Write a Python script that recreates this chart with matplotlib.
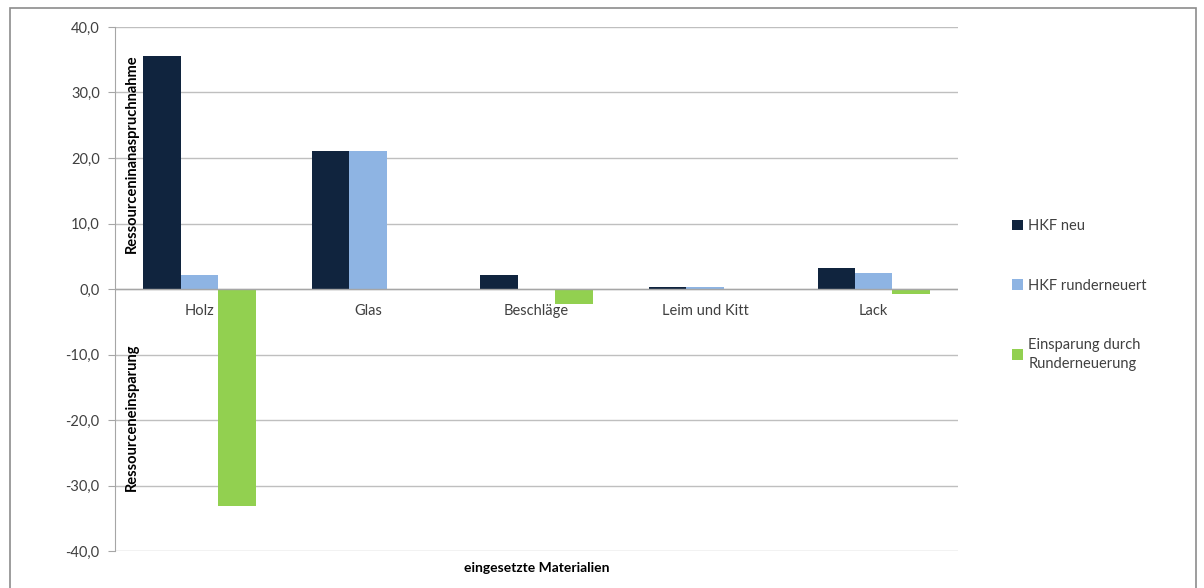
import numpy as np
import matplotlib.pyplot as plt
from matplotlib.patches import Rectangle

plt.rcParams["font.family"] = ["Lato", "DejaVu Sans"]

materials = ["Holz", "Glas", "Beschläge", "Leim und Kitt", "Lack"]
hkf_neu = [35.5, 21.0, 2.2, 0.3, 3.2]
hkf_rund = [2.2, 21.0, 0.0, 0.3, 2.5]
einsparung = [-33.2, 0.0, -2.3, -0.2, -0.8]

series = ["HKF neu", "HKF runderneuert", "Einsparung durch\nRunderneuerung"]
colors = ["#10243E", "#8EB4E3", "#92D050"]
yticks = [-40, -30, -20, -10, 0, 10, 20, 30, 40]

W, H = 1204, 588
fig = plt.figure(figsize=(W / 100, H / 100), dpi=100)
ax = fig.add_axes([115 / W, 1 - 551 / H, (958 - 115) / W, (551 - 27) / H])

# outer chart border
fig.patches.append(Rectangle((10 / W, -0.01), (1196 - 10) / W, 1 - 8 / H + 0.01,
                             transform=fig.transFigure, fill=False,
                             edgecolor="#8C8C8C", lw=1.2))

x = np.arange(len(materials))
bw = 1 / 4.5
for k, (vals, lab, col) in enumerate(zip([hkf_neu, hkf_rund, einsparung], series, colors)):
    ax.bar(x + (k - 1) * bw, vals, bw, color=col, label=lab, zorder=3)

ax.set_xlim(-0.5, len(materials) - 0.5)
ax.set_ylim(-40, 40)
ax.set_yticks(yticks)
ax.set_yticklabels([f"{v:.1f}".replace(".", ",") for v in yticks], fontsize=10.5, color="#404040")
ax.set_xticks([])
ax.yaxis.grid(True, color="#BFBFBF", lw=1, zorder=0)
ax.axhline(0, color="#A6A6A6", lw=1, zorder=4)
for s in ["top", "right", "bottom"]:
    ax.spines[s].set_visible(False)
ax.spines["left"].set_color("#A6A6A6")
ax.tick_params(axis="y", length=5, color="#A6A6A6", pad=6)

for i, m in enumerate(materials):
    ax.text(i, -3.3, m, ha="center", va="center", fontsize=10.5, color="#404040")

ax.set_xlabel("eingesetzte Materialien", fontsize=10, fontweight="bold", labelpad=8)

fig.text(132 / W, 1 - 154 / H, "Ressourceninanaspruchnahme", rotation=90,
         ha="center", va="center", fontsize=10.5, fontweight="bold")
fig.text(132 / W, 1 - 417 / H, "Ressourceneinsparung", rotation=90,
         ha="center", va="center", fontsize=10.5, fontweight="bold")

leg = ax.legend(loc="upper left", bbox_to_anchor=(1005 / W, 1 - 212 / H),
                bbox_transform=fig.transFigure, frameon=False, fontsize=10.5,
                handlelength=0.7, handleheight=0.7, handletextpad=0.4,
                labelspacing=3.1, borderpad=0)
for t in leg.get_texts():
    t.set_color("#404040")
    t.set_linespacing(1.45)

fig.savefig("out.png", dpi=100)
